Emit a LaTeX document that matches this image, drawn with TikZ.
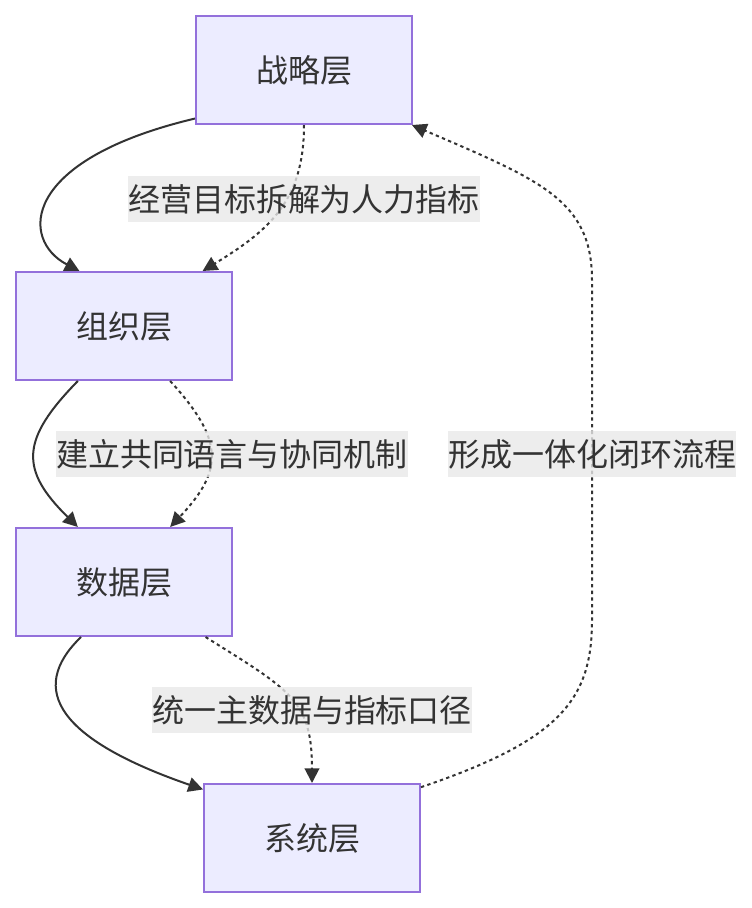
\documentclass[tikz,border=0pt]{standalone}
\usepackage{fontspec}
\setmainfont{Noto Sans CJK SC}
\usetikzlibrary{arrows.meta}
\definecolor{layerfill}{RGB}{236,236,255}
\definecolor{layerline}{RGB}{147,112,219}
\definecolor{ink}{RGB}{51,51,51}
\definecolor{tagfill}{RGB}{232,232,232}

\begin{document}
\begin{tikzpicture}[x=0.75pt,y=-0.75pt,
    layer/.style={fill=layerfill,draw=layerline,line width=1.5pt,minimum width=162pt,minimum height=81pt,
      text=ink,font=\fontsize{24pt}{28pt}\selectfont},
    tag/.style={fill=tagfill,fill opacity=0.8,text opacity=1,text=ink,inner xsep=0pt,inner ysep=0pt,
      minimum height=35pt,font=\fontsize{24pt}{28pt}\selectfont},
    flow/.style={draw=ink,line width=1.5pt,-{Triangle[length=11pt,width=11pt]}},
    link/.style={flow,dash pattern=on 2.5pt off 2.5pt}]
    \useasboundingbox (0,0) rectangle (752,908);
    % layers
    \foreach \n/\t/\x/\y in {
      strat/战略层/304/70,
      org/组织层/124/326,
      data/数据层/124/582,
      sys/系统层/312/838}
    {
      \node[layer] (\n) at (\x,\y) {\t};
    }
    % solid flow down
    \draw[flow] (strat.204) .. controls (20,160) and (20,240) .. (org.129);
    \draw[flow] (org.230) .. controls (20,440) and (20,470) .. (data.130);
    \draw[flow] (data.232) .. controls (26,690) and (60,740) .. (sys.156);
    % dotted links
    \draw[link] (strat.south) .. controls (304,200) and (270,230) .. (org.35);
    \draw[link] (org.310) .. controls (224,440) and (224,470) .. (data.50);
    \draw[link] (data.326) .. controls (290,690) and (312,700) .. (sys.north);
    \draw[link] (sys.25) .. controls (560,740) and (592,700) .. (592,620) -- (592,280)
      .. controls (592,200) and (540,180) .. (strat.333);
    % labels
    \node[tag] (l1) at (304,199) {经营目标拆解为人力指标};
    \node[tag] (l2) at (232,454) {建立共同语言与协同机制};
    \node[tag] (l3) at (312,710) {统一主数据与指标口径};
    \node[tag] (l4) at (592,454) {形成一体化闭环流程};
\end{tikzpicture}
\end{document}
